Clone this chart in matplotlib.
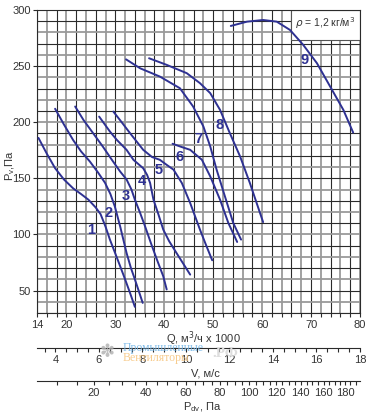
import numpy as np
import matplotlib
matplotlib.use('Agg')
import matplotlib.pyplot as plt
from matplotlib.ticker import FixedLocator
from matplotlib.patches import Rectangle

plt.rcParams['font.family'] = ['Liberation Sans', 'DejaVu Sans']

# ---- data ----
q1 = [14.3, 16.0, 17.7, 19.5, 21.4, 23.0, 24.5, 26.0, 27.0, 28.0, 28.9, 30.0, 31.0, 32.0, 33.0, 34.0]
p1 = [186, 172, 159, 149, 141, 136, 131, 124, 118, 107, 95.4, 83, 71.6, 60, 48, 35.5]

q2 = [17.7, 19.5, 21.4, 23.0, 24.8, 26.5, 27.9, 29.0, 29.9, 31.0, 32.3, 33.2, 34.0, 35.6]
p2 = [212, 198, 184, 174, 165, 155, 146, 136, 125, 107, 83.5, 70, 60, 39]

q3 = [21.8, 23.5, 25.5, 27.5, 29.3, 31.0, 32.3, 33.3, 34.0, 35.0, 36.1, 37.3, 38.5, 39.8, 40.5]
p3 = [214, 202, 190, 178, 166.5, 156, 149, 140, 131, 120, 107, 92, 77.6, 62.7, 51]

q4 = [26.7, 28.9, 30.3, 32.3, 33.7, 35.7, 36.5, 37.1, 37.8, 38.8, 39.8, 41.0, 42.5, 45.3]
p4 = [205, 191.7, 184.3, 175.4, 166.5, 159, 153, 146, 131, 118, 104.3, 94, 83.5, 64.2]

q5 = [29.6, 31.3, 33.0, 35.7, 37.5, 39.1, 40.5, 41.9, 43.6, 45.3, 47.3, 48.5, 49.8]
p5 = [209.5, 200, 190.3, 175.4, 169, 166.5, 162, 157.7, 145.8, 128, 104.3, 91, 77]

q6 = [41.7, 43.5, 45.3, 47.7, 49.4, 51.4, 53.1, 54.9]
p6 = [180.8, 178, 175.4, 166.5, 151.7, 131, 110.2, 93.3]

q7 = [32.2, 35.1, 39.1, 43.2, 45.9, 48.0, 49.4, 50.7, 52.4, 54.1, 55.7]
p7 = [256, 248, 240.7, 230.3, 214, 196.2, 178.4, 157.7, 133.9, 110.2, 95.4]

q8 = [36.9, 40.5, 44.6, 47.3, 49.4, 51.4, 53.4, 55.5, 57.5, 60.2]
p8 = [257, 251.1, 243.7, 234.8, 225.9, 211, 190.3, 169.5, 145.8, 111]

q9 = [53.6, 56.9, 60.2, 63.0, 65.7, 68.4, 71.2, 73.9, 76.6, 78.6]
p9 = [285.8, 289.6, 291.1, 289.6, 282.2, 268.9, 252.6, 231.8, 211, 190.8]

curve_names = ['1', '2', '3', '4', '5', '6', '7', '8', '9']
label_q = [25.0, 28.6, 32.2, 35.5, 38.8, 43.2, 47.0, 51.3, 68.6]
label_p = [104.3, 119.0, 134.0, 147.3, 157.1, 168.9, 184.9, 197.7, 255.5]

q_ticks = [14, 20, 30, 40, 50, 60, 70, 80]
p_ticks = [50, 100, 150, 200, 250, 300]
v_ticks = [4, 6, 8, 10, 12, 14, 16, 18]
pdv_ticks = [20, 40, 60, 80, 100, 120, 140, 160, 180]

rho = 1.2
q_per_v = 80 / 18  # Q (x1000 m3/h) per 1 m/s

curves_q = [q1, q2, q3, q4, q5, q6, q7, q8, q9]
curves_p = [p1, p2, p3, p4, p5, p6, p7, p8, p9]

# ---- figure ----
W, H = 367, 415
fig = plt.figure(figsize=(W / 100, H / 100), dpi=100)
ax = fig.add_axes([37 / W, 1 - 313 / H, 323 / W, 303 / H])
ax.set_xlim(14, 80)
ax.set_ylim(30, 300)

line_col = '#2e3192'
txt_col = '#333333'

# grid
for i, x in enumerate(np.arange(14, 81, 2)):
    if i % 2 == 0:
        ax.axvline(x, color='#2b2b2b', lw=0.8, zorder=1)
    else:
        ax.axvline(x, color='#9a9a9a', lw=1.3, zorder=1)
for i, y in enumerate(np.arange(30, 301, 10)):
    if i % 2 == 0:
        ax.axhline(y, color='#2b2b2b', lw=0.8, zorder=1)
    else:
        ax.axhline(y, color='#9a9a9a', lw=1.3, zorder=1)

for qs, ps in zip(curves_q, curves_p):
    ax.plot(qs, ps, color=line_col, lw=1.4, zorder=3, solid_capstyle='round')

for name, lq, lp in zip(curve_names, label_q, label_p):
    ax.text(lq, lp, name, color=line_col, fontsize=10.5, fontweight='bold',
            ha='center', va='center', zorder=4)

# density box
ax.add_patch(Rectangle((65.9, 273.3), 80 - 65.9, 300 - 273.3, facecolor='white',
                       edgecolor='#555555', lw=0.8, zorder=2))
ax.text(72.9, 288.5, r'$\rho$ = 1,2 кг/м$^3$', fontsize=7.5, color=txt_col,
        ha='center', va='center', zorder=5)

for s in ax.spines.values():
    s.set_color('#2b2b2b')
    s.set_linewidth(0.8)
    s.set_zorder(2)

ax.set_xticks(q_ticks)
ax.xaxis.set_minor_locator(FixedLocator(np.arange(14, 81, 2)))
ax.set_yticks(p_ticks)
ax.tick_params(axis='x', which='both', direction='out', length=3, width=0.8,
               color='#2b2b2b', labelsize=8, labelcolor=txt_col, pad=2)
ax.tick_params(axis='y', which='both', direction='out', length=3, width=0.8,
               color='#2b2b2b', labelsize=8, labelcolor=txt_col, pad=1.5)

ax.text((203 - 37) / 323, -(339 - 313) / 303, 'Q, м$^3$/ч x 1000', transform=ax.transAxes,
        ha='center', va='center', fontsize=8, color=txt_col)
ax.text(-27 / 323, (313 - 165) / 303, 'P$_\\mathregular{v}$,Па', transform=ax.transAxes,
        ha='center', va='center', fontsize=8, color=txt_col, rotation=90)


# secondary axes
def q2v(q):
    return np.asarray(q) / q_per_v


def v2q(v):
    return np.asarray(v) * q_per_v


def q2pdv(q):
    v = np.asarray(q) / q_per_v
    return 0.5 * rho * v ** 2


def pdv2q(p):
    p = np.maximum(np.asarray(p, dtype=float), 0)
    return np.sqrt(p / (0.5 * rho)) * q_per_v


secv = ax.secondary_xaxis(-(348 - 313) / 303, functions=(q2v, v2q))
secv.set_xticks(v_ticks)
secv.xaxis.set_minor_locator(FixedLocator(np.arange(3.5, 18.01, 0.5)))
secv.tick_params(which='both', direction='out', length=3, width=0.8, color='#2b2b2b',
                 labelsize=8, labelcolor=txt_col, pad=2)
secv.spines['bottom'].set_color('#2b2b2b')
secv.spines['bottom'].set_linewidth(0.8)

secp = ax.secondary_xaxis(-(381 - 313) / 303, functions=(q2pdv, pdv2q))
secp.set_xticks(pdv_ticks)
secp.xaxis.set_minor_locator(FixedLocator(np.arange(10, 191, 5)))
secp.tick_params(which='both', direction='out', length=3, width=0.8, color='#2b2b2b',
                 labelsize=8, labelcolor=txt_col, pad=2)
secp.spines['bottom'].set_color('#2b2b2b')
secp.spines['bottom'].set_linewidth(0.8)

ax.text((205 - 37) / 323, -(373 - 313) / 303, 'V, м/с', transform=ax.transAxes,
        ha='center', va='center', fontsize=8, color=txt_col)
ax.text((202 - 37) / 323, -(407 - 313) / 303, 'P$_\\mathregular{dv}$, Па', transform=ax.transAxes,
        ha='center', va='center', fontsize=8, color=txt_col)

# faint watermark
fig.text(107 / W, 1 - 352 / H, '✽', fontsize=13, color='#b0b0b0', ha='center', va='center',
         family=['DejaVu Sans'], alpha=0.8)
fig.text(123 / W, 1 - 348 / H, 'Промышленные', fontsize=8.5, color='#6fb3e6',
         family=['Liberation Serif', 'DejaVu Serif'], ha='left', va='center', alpha=0.85)
fig.text(123 / W, 1 - 358 / H, 'Вентиляторы', fontsize=8.5, color='#f6c37a',
         family=['Liberation Serif', 'DejaVu Serif'], ha='left', va='center', alpha=0.85)
fig.text(212 / W, 1 - 353 / H, '.РФ', fontsize=11, color='#dddddd',
         family=['Liberation Serif', 'DejaVu Serif'], ha='left', va='center', fontweight='bold')

fig.savefig('out.png', dpi=100)
